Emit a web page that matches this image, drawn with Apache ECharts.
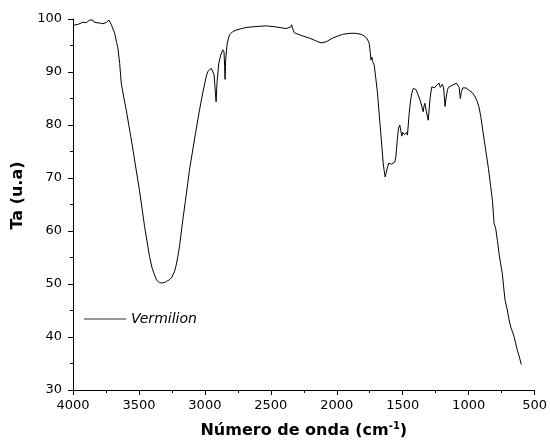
<!DOCTYPE html>
<html>
<head>
<meta charset="utf-8">
<script src="https://cdn.jsdelivr.net/npm/echarts@6/dist/echarts.min.js"></script>
<style>
  html, body { margin: 0; padding: 0; background: #fff; }
  #chart { width: 550px; height: 446px; }
</style>
</head>
<body>
<div id="chart"></div>
<script>
// FTIR spectrum of the Vermilion sample: wavenumber (cm-1) vs transmittance
const seriesName = 'Vermilion';

const wavenumbers = [
  4000, 3987, 3960, 3949, 3925, 3911, 3900, 3886, 3874, 3862, 3850, 3840, 3830, 3818, 3805, 3790,
  3773, 3760, 3745, 3727, 3718, 3709, 3700, 3684, 3670, 3660, 3646, 3634, 3615, 3596, 3566, 3545,
  3533, 3495, 3457, 3420, 3400, 3382, 3365, 3344, 3325, 3306, 3290, 3269, 3250, 3231, 3218, 3205,
  3192, 3180, 3165, 3147, 3130, 3117, 3092, 3070, 3041, 3015, 2990, 2978, 2952, 2940, 2930, 2920,
  2915, 2908, 2895, 2880, 2864, 2855, 2850, 2847, 2842, 2831, 2814, 2790, 2763, 2720, 2687, 2600,
  2536, 2460, 2384, 2350, 2342, 2335, 2322, 2270, 2208, 2160, 2120, 2080, 2032, 1990, 1956, 1900,
  1855, 1815, 1792, 1770, 1754, 1745, 1741, 1733, 1729, 1716, 1705, 1691, 1680, 1666, 1648, 1640,
  1633, 1625, 1615, 1605, 1597, 1585, 1570, 1560, 1552, 1540, 1532, 1522, 1515, 1507, 1500, 1494,
  1487, 1481, 1472, 1464, 1451, 1440, 1431, 1420, 1413, 1400, 1388, 1370, 1355, 1345, 1338, 1332,
  1320, 1307, 1300, 1294, 1285, 1279, 1268, 1260, 1249, 1240, 1230, 1224, 1215, 1205, 1199, 1190,
  1185, 1179, 1170, 1160, 1153, 1140, 1123, 1110, 1093, 1080, 1072, 1063, 1055, 1045, 1035, 1020,
  1010, 990, 972, 955, 934, 920, 908, 890, 871, 850, 833, 820, 807, 795, 782, 770,
  757, 745, 735, 724, 707, 695, 681, 668, 656, 643, 631, 615, 601
];

const transmittance = [
  98.8, 98.8, 99.0, 99.2, 99.4, 99.5, 99.3, 99.6, 99.8, 99.5, 99.8, 99.4, 99.7, 99.3, 99.6, 99.2,
  99.1, 99.0, 99.4, 99.8, 99.5, 98.9, 98.6, 97.3, 95.6, 94.6, 91.6, 87.9, 85.2, 82.8, 78.4, 75.3,
  73.4, 67.5, 60.8, 55.2, 53.0, 51.7, 50.7, 50.25, 50.2, 50.3, 50.5, 50.8, 51.3, 52.3, 53.5, 55.2,
  57.2, 59.6, 62.5, 65.8, 69.0, 71.5, 75.3, 78.6, 82.8, 86.2, 89.1, 90.1, 90.7, 91.0, 89.5, 86.0,
  84.4, 88.0, 91.6, 93.2, 94.2, 93.8, 91.0, 88.6, 92.5, 95.4, 97.0, 97.6, 97.9, 98.2, 98.4, 98.6,
  98.7, 98.5, 98.2, 98.5, 98.9, 98.2, 97.4, 96.9, 96.4, 95.9, 95.5, 95.7, 96.4, 96.8, 97.1, 97.3,
  97.3, 97.1, 96.8, 96.3, 95.4, 93.5, 92.3, 92.8, 92.0, 91.3, 89.0, 86.0, 82.5, 78.4, 72.8, 71.3,
  70.2, 71.0, 72.1, 72.8, 72.9, 72.6, 72.5, 73.0, 74.0, 77.5, 79.4, 80.0, 79.0, 77.9, 78.6, 78.6,
  78.2, 78.5, 78.6, 78.1, 82.2, 84.7, 86.0, 86.9, 87.0, 86.7, 86.0, 84.8, 83.5, 82.5, 83.6, 84.1,
  82.5, 80.9, 82.8, 84.7, 86.4, 87.2, 87.4, 87.0, 86.9, 87.6, 87.5, 87.9, 87.1, 87.4, 87.7, 87.0,
  85.5, 83.5, 85.3, 86.7, 87.1, 87.2, 87.5, 87.7, 87.9, 87.8, 87.1, 85.0, 86.3, 87.0, 87.2, 87.0,
  86.7, 86.4, 86.1, 85.5, 84.4, 83.2, 81.6, 78.5, 75.3, 71.8, 68.4, 65.8, 61.4, 60.5, 58.2, 55.8,
  53.8, 52.0, 49.5, 47.0, 45.1, 43.4, 41.9, 41.0, 40.1, 38.8, 37.5, 36.2, 34.8
];

// Axis ranges and tick steps
const xRange = [500, 4000];
const xStep = 500;
const yRange = [30, 100];
const yStep = 10;

const points = wavenumbers.map((w, i) => [w, transmittance[i]]);

const FONT = '"DejaVu Sans", "Liberation Sans", Arial, sans-serif';

const chart = echarts.init(document.getElementById('chart'), null, { renderer: 'canvas' });

const axisCommon = {
  axisLine: { show: true, lineStyle: { color: '#000', width: 1 } },
  axisTick: { show: true, inside: false, length: 5, lineStyle: { color: '#000', width: 1 } },
  minorTick: { show: true, splitNumber: 2, length: 3, lineStyle: { color: '#000', width: 1 } },
  splitLine: { show: false },
  axisLabel: { color: '#000', fontSize: 13, fontFamily: FONT, formatter: v => String(v) }
};

chart.setOption({
  animation: false,
  backgroundColor: '#fff',
  grid: { left: 73, right: 14, top: 19, bottom: 56, containLabel: false },
  legend: {
    show: true,
    left: 84,
    top: 312,
    padding: 0,
    icon: 'rect',
    itemWidth: 42,
    itemHeight: 1,
    itemStyle: { color: '#333' },
    textStyle: { color: '#000', fontSize: 14, fontStyle: 'italic', fontFamily: FONT },
    data: [seriesName]
  },
  xAxis: Object.assign({}, axisCommon, {
    type: 'value',
    inverse: true,
    min: xRange[0],
    max: xRange[1],
    interval: xStep,
    name: 'Número de onda (cm{sup|-1})',
    nameLocation: 'middle',
    nameGap: 31,
    nameTextStyle: {
      color: '#000', fontSize: 16, fontWeight: 'bold', fontFamily: FONT,
      rich: {
        sup: { fontSize: 10, fontWeight: 'bold', fontFamily: FONT, color: '#000', padding: [0, 0, 9, 0] }
      }
    },
    axisLabel: Object.assign({}, axisCommon.axisLabel, { margin: 9 })
  }),
  yAxis: Object.assign({}, axisCommon, {
    type: 'value',
    min: yRange[0],
    max: yRange[1],
    interval: yStep,
    name: 'Ta (u.a)',
    nameLocation: 'middle',
    nameGap: 46,
    nameTextStyle: {
      color: '#000', fontSize: 16, fontWeight: 'bold', fontFamily: FONT,
      padding: [0, 0, 0, 18]
    },
    axisLabel: Object.assign({}, axisCommon.axisLabel, { margin: 11 })
  }),
  series: [{
    name: seriesName,
    type: 'line',
    data: points,
    symbol: 'none',
    smooth: false,
    lineStyle: { color: '#000', width: 1 },
    itemStyle: { color: '#000' }
  }]
});
</script>
</body>
</html>
